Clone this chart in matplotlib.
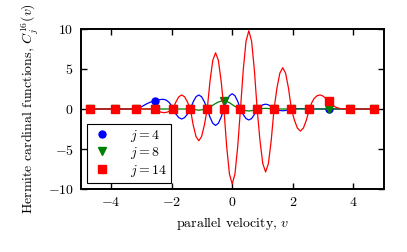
import matplotlib
matplotlib.use("Agg")
import matplotlib.pyplot as plt

plt.rcParams['font.family'] = 'serif'
plt.rcParams['font.serif'] = ['cmr10']
plt.rcParams['mathtext.fontset'] = 'cm'
plt.rcParams['axes.formatter.use_mathtext'] = True
plt.rcParams['axes.unicode_minus'] = True

# Hermite nodes (positions of markers)
nodes = [-4.689, -3.869, -3.177, -2.546, -1.952, -1.380, -0.823, -0.273,
         0.273, 0.823, 1.380, 1.952, 2.546, 3.177, 3.869, 4.689]

# marker values at nodes
j4_marks = [0, 0, 0, 1, 0, 0, 0, 0, 0, 0, 0, 0, 0, 0, 0, 0]
j8_marks = [0, 0, 0, 0, 0, 0, 0, 1, 0, 0, 0, 0, 0, 0, 0, 0]
j14_marks = [0, 0, 0, 0, 0, 0, 0, 0, 0, 0, 0, 0, 0, 1, 0, 0]

# curve j=4
j4_x = [-4.689, -3.869, -3.177, -3.10, -3.00, -2.90, -2.80, -2.70, -2.60, -2.546,
        -2.45, -2.35, -2.27, -2.18, -2.08, -2.00, -1.952,
        -1.857, -1.761, -1.666, -1.571, -1.475, -1.380,
        -1.287, -1.194, -1.102, -1.009, -0.916, -0.823,
        -0.731, -0.640, -0.548, -0.456, -0.365, -0.273,
        -0.182, -0.091, 0.0, 0.091, 0.182, 0.273,
        0.365, 0.456, 0.548, 0.640, 0.731, 0.823,
        0.916, 1.009, 1.102, 1.194, 1.287, 1.380,
        1.475, 1.571, 1.666, 1.761, 1.857, 1.952,
        2.249, 2.546, 3.177, 3.869, 4.689]
j4_y = [0, 0, 0, 0.08, 0.25, 0.48, 0.68, 0.85, 0.96, 1.0,
        1.11, 1.19, 1.2, 1.12, 0.82, 0.42, 0,
        -0.63, -1.08, -1.25, -1.08, -0.63, 0,
        0.88, 1.52, 1.75, 1.52, 0.88, 0,
        -1.03, -1.78, -2.05, -1.78, -1.03, 0,
        0.95, 1.65, 1.9, 1.65, 0.95, 0,
        -0.69, -1.19, -1.37, -1.19, -0.69, 0,
        0.3, 0.52, 0.6, 0.52, 0.3, 0,
        -0.11, -0.19, -0.22, -0.19, -0.11, 0,
        0.05, 0, 0, 0, 0]

# curve j=8
j8_x = [-4.689, -3.869, -3.177, -2.546, -1.952, -1.380, -1.10, -0.823,
        -0.75, -0.65, -0.55, -0.45, -0.35, -0.273, -0.2, -0.1, 0.0, 0.1, 0.2, 0.273,
        0.365, 0.456, 0.548, 0.640, 0.731, 0.823, 1.10, 1.380,
        1.952, 2.546, 3.177, 3.869, 4.689]
j8_y = [0, 0, 0, 0, 0, 0, -0.15, 0,
        0.2, 0.45, 0.68, 0.88, 0.99, 1.0, 0.97, 0.8, 0.55, 0.3, 0.1, 0,
        -0.12, -0.21, -0.25, -0.21, -0.12, 0, 0.08, 0,
        0, 0, 0, 0, 0]

# curve j=14
j14_x = [-4.689, -3.869, -3.177, -2.546,
         -2.447, -2.348, -2.249, -2.150, -2.051, -1.952,
         -1.857, -1.761, -1.666, -1.571, -1.475, -1.380,
         -1.287, -1.194, -1.102, -1.009, -0.916, -0.823,
         -0.731, -0.640, -0.548, -0.456, -0.365, -0.273,
         -0.182, -0.091, 0.0, 0.091, 0.182, 0.273,
         0.365, 0.456, 0.548, 0.640, 0.731, 0.823,
         0.916, 1.009, 1.102, 1.194, 1.287, 1.380,
         1.475, 1.571, 1.666, 1.761, 1.857, 1.952,
         2.051, 2.150, 2.249, 2.348, 2.447, 2.546,
         2.62, 2.70, 2.80, 2.90, 3.00, 3.09, 3.177, 3.28, 3.40, 3.55, 3.869, 4.689]
j14_y = [0, 0, 0, 0,
         -0.23, -0.40, -0.46, -0.40, -0.23, 0,
         0.87, 1.52, 1.75, 1.52, 0.87, 0,
         -1.98, -3.43, -3.96, -3.43, -1.98, 0,
         3.5, 6.06, 7.0, 6.06, 3.5, 0,
         -4.68, -8.10, -9.35, -8.10, -4.68, 0,
         4.88, 8.44, 9.75, 8.44, 4.88, 0,
         -3.93, -6.80, -7.85, -6.80, -3.93, 0,
         2.58, 4.46, 5.15, 4.46, 2.58, 0,
         -1.38, -2.38, -2.75, -2.38, -1.38, 0,
         0.75, 1.3, 1.65, 1.75, 1.6, 1.3, 1.0, 0.6, 0.25, 0.05, 0, 0]

labels = ['$j = 4$', '$j = 8$', '$j = 14$']
xticks = [-4, -2, 0, 2, 4]
yticks = [-10, -5, 0, 5, 10]

fs = 10
fig = plt.figure(figsize=(4.07, 2.52), dpi=100)
ax = fig.add_axes([0.198, 0.249, 0.745, 0.637])

lw = 0.9
ax.plot(j4_x, j4_y, color='blue', lw=lw)
ax.plot(nodes, j4_marks, 'o', color='blue', mec='blue', ms=5.0, label=labels[0])
ax.plot(j8_x, j8_y, color='green', lw=lw)
ax.plot(nodes, j8_marks, 'v', color='green', mec='green', ms=5.5, label=labels[1])
ax.plot(j14_x, j14_y, color='red', lw=lw)
ax.plot(nodes, j14_marks, 's', color='red', mec='red', ms=5.5, label=labels[2])

ax.set_xlim(-5, 5)
ax.set_ylim(-10, 10)
ax.set_xticks(xticks)
ax.set_yticks(yticks)
ax.tick_params(direction='in', length=4, width=1.0, top=True, right=True,
               labelsize=fs, pad=5)
for s in ax.spines.values():
    s.set_linewidth(1.4)

ax.set_xlabel('parallel velocity, $v$', fontsize=fs, labelpad=4)
ax.set_ylabel('Hermite cardinal functions, $C_j^{16}(v)$', fontsize=fs, labelpad=5)

leg = ax.legend(loc='lower left', bbox_to_anchor=(0.02, 0.04), borderaxespad=0,
                numpoints=1, fancybox=False, framealpha=1, edgecolor='black',
                fontsize=fs, handlelength=1.6, handletextpad=1.2,
                borderpad=0.3, labelspacing=0.1)
leg.get_frame().set_linewidth(0.8)

fig.savefig('out.png', dpi=100)
